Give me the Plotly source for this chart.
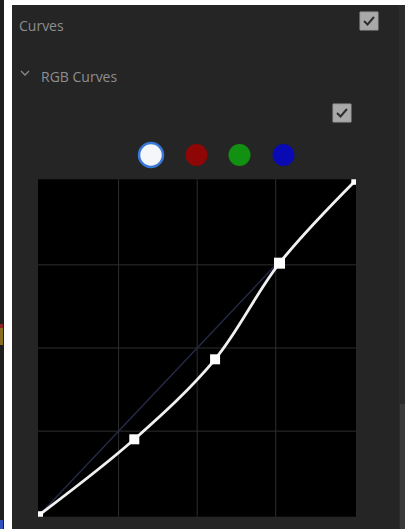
import plotly.graph_objects as go

# ---- data ----
curve_x = [0.0, 0.300, 0.557, 0.762, 1.0]
curve_y = [0.0, 0.2255, 0.466, 0.755, 1.0]
marker_sizes = [6, 10, 10, 11, 6]
diag_x = [0.0, 1.0]
diag_y = [0.0, 1.0]
grid_vals = [0.25, 0.5, 0.75]
channel_colors = ["#f4f6fa", "#8e0606", "#129012", "#0a0ab4"]
title_text = "Curves"
section_text = "RGB Curves"

W, H = 405, 529
PANEL = "#252525"


def px(x):
    return x / W


def py(y):
    return 1 - y / H


fig = go.Figure()

# diagonal reference line
fig.add_trace(go.Scatter(x=diag_x, y=diag_y, mode="lines",
                         line=dict(color="#262b48", width=1.4),
                         hoverinfo="skip", showlegend=False))
# curve
fig.add_trace(go.Scatter(x=curve_x, y=curve_y, mode="lines",
                         line=dict(color="#f0f0f0", width=2.8, shape="spline", smoothing=1.0),
                         hoverinfo="skip", showlegend=False))
# control points
fig.add_trace(go.Scatter(x=curve_x, y=curve_y, mode="markers",
                         marker=dict(symbol="square", size=marker_sizes, color="#ffffff",
                                     opacity=1, line=dict(width=0)),
                         hoverinfo="skip", showlegend=False))

shapes = []
# outer strips
shapes.append(dict(type="rect", xref="paper", yref="paper", x0=px(0), x1=px(4), y0=py(529), y1=py(0),
                   fillcolor="#1e1e1e", line=dict(width=0), layer="below"))
shapes.append(dict(type="rect", xref="paper", yref="paper", x0=px(0), x1=px(3), y0=py(328), y1=py(324),
                   fillcolor="#902020", line=dict(width=0), layer="below"))
shapes.append(dict(type="rect", xref="paper", yref="paper", x0=px(0), x1=px(3), y0=py(345), y1=py(328),
                   fillcolor="#8a7020", line=dict(width=0), layer="below"))
shapes.append(dict(type="rect", xref="paper", yref="paper", x0=px(0), x1=px(3), y0=py(529), y1=py(520),
                   fillcolor="#3050c0", line=dict(width=0), layer="below"))
shapes.append(dict(type="rect", xref="paper", yref="paper", x0=px(4), x1=px(12), y0=py(529), y1=py(0),
                   fillcolor="#ffffff", line=dict(width=0), layer="below"))
shapes.append(dict(type="rect", xref="paper", yref="paper", x0=px(4), x1=px(405), y0=py(5), y1=py(0),
                   fillcolor="#ffffff", line=dict(width=0), layer="below"))
shapes.append(dict(type="rect", xref="paper", yref="paper", x0=px(399), x1=px(405), y0=py(529), y1=py(5),
                   fillcolor="#2b2b2b", line=dict(width=0), layer="below"))
shapes.append(dict(type="rect", xref="paper", yref="paper", x0=px(400), x1=px(405), y0=py(529), y1=py(404),
                   fillcolor="#3a3a3a", line=dict(width=0), layer="below"))

# chevron
shapes.append(dict(type="path", xref="paper", yref="paper",
                   path=f"M {px(21)} {py(71)} L {px(25)} {py(75)} L {px(29)} {py(71)}",
                   line=dict(color="#8a8a8a", width=1.3)))

# checkboxes
for cx, cy in [(369, 21), (342, 113)]:
    s = 9
    shapes.append(dict(type="rect", xref="paper", yref="paper",
                       x0=px(cx - s), x1=px(cx + s), y0=py(cy + s), y1=py(cy - s),
                       fillcolor="#a9a9a9", line=dict(color="#9a9a9a", width=1)))
    shapes.append(dict(type="path", xref="paper", yref="paper",
                       path=(f"M {px(cx - 5)} {py(cy)} L {px(cx - 1.5)} {py(cy + 3.5)} "
                             f"L {px(cx + 5)} {py(cy - 4)}"),
                       line=dict(color="#2e2e2e", width=2)))

# channel circles
circle_centers = [(151, 155), (196.5, 155), (239.5, 155), (283.5, 155)]
circle_r = [12, 11, 11, 11]
for (cx, cy), r, col in zip(circle_centers, circle_r, channel_colors):
    border = dict(color="#3a78d8", width=2.5) if col == channel_colors[0] else dict(width=0)
    shapes.append(dict(type="circle", xref="paper", yref="paper",
                       x0=px(cx - r), x1=px(cx + r), y0=py(cy + r), y1=py(cy - r),
                       fillcolor=col, line=border))

# grid lines in data coordinates
for g in grid_vals:
    shapes.append(dict(type="line", xref="x", yref="paper", x0=g, x1=g,
                       y0=py(516.7), y1=py(179.3),
                       line=dict(color="#2e2e2e", width=1), layer="below"))
    shapes.append(dict(type="line", xref="paper", yref="y", x0=px(38), x1=px(356),
                       y0=g, y1=g, line=dict(color="#2e2e2e", width=1), layer="below"))

annotations = [
    dict(text=title_text, xref="paper", yref="paper", x=px(17), y=py(25),
         xanchor="left", yanchor="middle", showarrow=False,
         font=dict(family="Open Sans", size=14, color="#8e8e8e")),
    dict(text=section_text, xref="paper", yref="paper", x=px(39), y=py(76),
         xanchor="left", yanchor="middle", showarrow=False,
         font=dict(family="Open Sans", size=14, color="#8e8e8e")),
]

fig.update_layout(
    width=W, height=H,
    margin=dict(l=0, r=0, t=0, b=0),
    paper_bgcolor=PANEL,
    plot_bgcolor="#000000",
    shapes=shapes,
    annotations=annotations,
    showlegend=False,
    xaxis=dict(domain=[px(38), px(356)], range=[-0.0064, 1.0054],
               showgrid=False, zeroline=False, showticklabels=False, ticks="",
               fixedrange=True),
    yaxis=dict(domain=[py(516.7), py(179.3)], range=[-0.0072, 1.0072],
               showgrid=False, zeroline=False, showticklabels=False, ticks="",
               fixedrange=True),
)

fig.write_html("out.html", config={"displayModeBar": False},
               post_script="document.body.style.margin='0';document.body.style.overflow='hidden';")
